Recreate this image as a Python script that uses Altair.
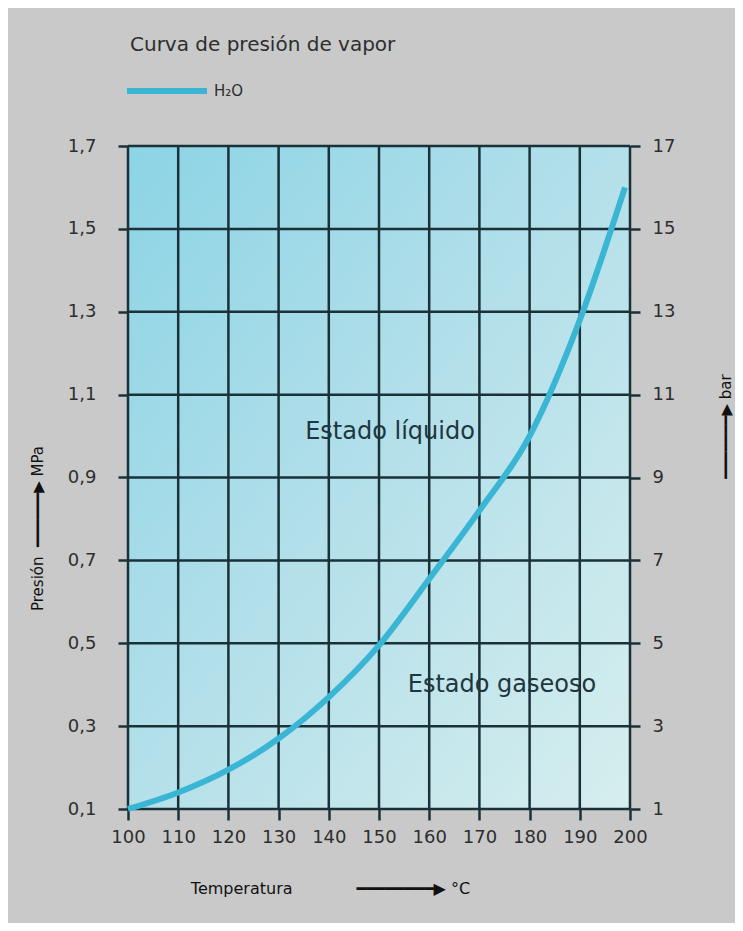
import altair as alt
import pandas as pd

# ---- data ----
temps = [100, 110, 120, 130, 140, 150, 160, 170, 180, 190, 199]
press = [0.10, 0.14, 0.195, 0.27, 0.37, 0.495, 0.655, 0.82, 1.00, 1.28, 1.60]
x_ticks = [100, 110, 120, 130, 140, 150, 160, 170, 180, 190, 200]
mpa_ticks = [0.1, 0.3, 0.5, 0.7, 0.9, 1.1, 1.3, 1.5, 1.7]
bar_ticks = [1, 3, 5, 7, 9, 11, 13, 15, 17]
title_text = ["Curva de presión de vapor"]
series_name = "H₂O"
region_labels = ["Estado líquido", "Estado gaseoso"]
region_t = [152.2, 174.5]
region_p = [1.01, 0.40]

FONT = "DejaVu Sans"
DARK = "#1a3138"
TXT = "#2e2e2e"
LINE = "#3ab6d4"

curve = pd.DataFrame({"t": temps, "p": press, "s": [series_name] * len(temps)})
vgrid = pd.DataFrame({"t": x_ticks})
hgrid = pd.DataFrame({"p": mpa_ticks})
regions = pd.DataFrame({"label": region_labels, "t": region_t, "p": region_p})
bars = pd.DataFrame({"b": bar_ticks})
titles = pd.DataFrame({"txt": title_text})

xscale = alt.Scale(domain=[100, 200], nice=False, zero=False)
yscale = alt.Scale(domain=[0.1, 1.7], nice=False, zero=False)


def arrow(n):
    return "\u2501" * n + "\u25B6"


xaxis = alt.Axis(
    values=x_ticks, grid=False, domain=False, tickSize=11, tickWidth=2.5,
    tickColor=DARK, labelFontSize=18, labelColor=TXT, labelFont=FONT,
    labelPadding=8, labelFlush=False,
    title="Temperatura\u2003\u2003\u2003\u2003" + arrow(8) + "\u00a0°C",
    titleX=202, titleY=79, titleFontSize=16, titleFont=FONT,
    titleFontWeight="normal", titleColor="#111", titleAlign="center",
    titleBaseline="middle",
)
yaxis = alt.Axis(
    values=mpa_ticks, grid=False, domain=False, tickSize=10, tickWidth=2.5,
    tickColor=DARK, labelFontSize=18, labelColor=TXT, labelFont=FONT,
    labelPadding=22, labelFlush=False,
    labelExpr="replace(format(datum.value, '.1f'), '.', ',')",
    title="Presión\u00a0\u00a0" + arrow(6) + "\u00a0MPa",
    titleX=-91, titleY=382, titleAngle=270, titleFontSize=15, titleFont=FONT,
    titleFontWeight="normal", titleColor="#111", titleAlign="center",
    titleBaseline="middle",
)

bg = alt.Chart(pd.DataFrame({"a": [0]})).mark_rect(
    fill=alt.LinearGradient(
        gradient="linear", x1=0, y1=0, x2=1, y2=1,
        stops=[
            alt.GradientStop(color="#8cd4e5", offset=0),
            alt.GradientStop(color="#b4e0ea", offset=0.5),
            alt.GradientStop(color="#d6eeee", offset=1),
        ],
    )
).encode(
    x=alt.datum(100, scale=xscale, axis=xaxis, type="quantitative"),
    x2=alt.datum(200),
    y=alt.datum(0.1, scale=yscale, axis=yaxis, type="quantitative"),
    y2=alt.datum(1.7),
)

vlines = alt.Chart(vgrid).mark_rule(color=DARK, strokeWidth=2.5).encode(
    x=alt.X("t:Q", scale=xscale, axis=xaxis),
    y=alt.datum(0.1, scale=yscale, axis=yaxis, type="quantitative"),
    y2=alt.datum(1.7),
)
hlines = alt.Chart(hgrid).mark_rule(color=DARK, strokeWidth=2.5).encode(
    y=alt.Y("p:Q", scale=yscale, axis=yaxis),
    x=alt.datum(100, scale=xscale, axis=xaxis, type="quantitative"),
    x2=alt.datum(200),
)

line = alt.Chart(curve).mark_line(strokeWidth=6, interpolate="monotone").encode(
    x=alt.X("t:Q", scale=xscale, axis=xaxis),
    y=alt.Y("p:Q", scale=yscale, axis=yaxis),
    color=alt.Color(
        "s:N",
        scale=alt.Scale(domain=[series_name], range=[LINE]),
        legend=alt.Legend(
            orient="none", legendX=-4, legendY=-98, title=None,
            symbolType="stroke", symbolSize=6400, symbolStrokeWidth=6,
            labelFontSize=15, labelFont=FONT, labelColor=TXT, labelOffset=4,
        ),
    ),
)

region_text = alt.Chart(regions).mark_text(
    fontSize=24, font=FONT, color="#1f3640", align="center", baseline="middle"
).encode(
    x=alt.X("t:Q", scale=xscale, axis=xaxis),
    y=alt.Y("p:Q", scale=yscale, axis=yaxis),
    text="label:N",
)

title = alt.Chart(titles).mark_text(
    fontSize=20, font=FONT, color=TXT, align="left", baseline="middle"
).encode(
    x=alt.value(2), y=alt.value(-101), text="txt:N"
)

left = alt.layer(bg, vlines, hlines, line, region_text, title)

right = alt.Chart(bars).mark_point(opacity=0).encode(
    y=alt.Y(
        "b:Q",
        scale=alt.Scale(domain=[1, 17], nice=False, zero=False),
        axis=alt.Axis(
            orient="right", values=bar_ticks, grid=False, domain=False,
            tickSize=10, tickWidth=2.5, tickColor=DARK, labelFontSize=18,
            labelColor=TXT, labelFont=FONT, labelPadding=12, labelFlush=False,
            title=arrow(7) + "\u00a0bar", titleX=95, titleY=280, titleAngle=270,
            titleFontSize=15, titleFont=FONT, titleFontWeight="normal",
            titleColor="#111", titleAlign="center", titleBaseline="middle",
        ),
    )
)

chart = (
    alt.layer(left, right)
    .resolve_scale(y="independent")
    .properties(
        width=502, height=663, background="#c9c9c9",
        autosize=alt.AutoSizeParams(type="none"),
        padding={"left": 120, "top": 138, "right": 105, "bottom": 114},
    )
    .configure_view(stroke=None)
)

chart.save("out.html", embed_options={"renderer": "svg", "actions": False})
